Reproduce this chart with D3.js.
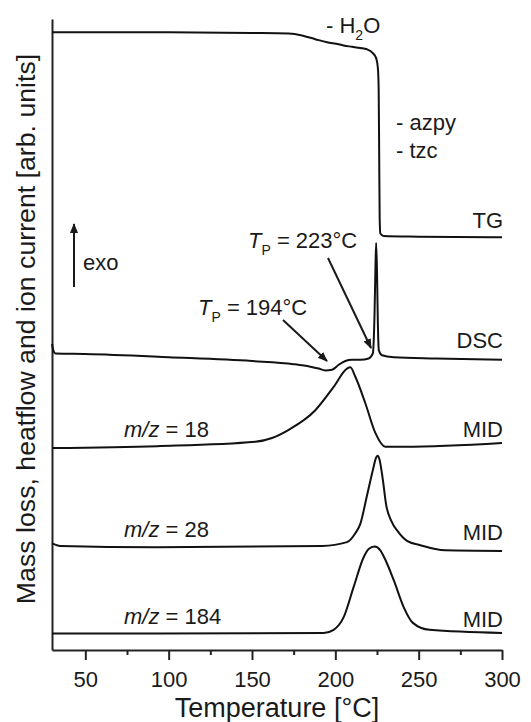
<!DOCTYPE html>
<html>
<head>
<meta charset="utf-8">
<script src="https://cdnjs.cloudflare.com/ajax/libs/d3/7.8.5/d3.min.js"></script>
<style>
body { margin: 0; background: #fff; }
text { font-family: "Liberation Sans", Arial, Helvetica, sans-serif; fill: #1a1a1a; }
</style>
</head>
<body>
<script>
// data: [temperature °C, signal in arb. units]________________________________
var tgCurve = [[30, 97.9], [100, 97.9], [150, 97.8], [172, 97.7], [180, 97.4], [188, 96.8],
    [195, 96.3], [202, 96.0], [205, 95.8], [210, 95.6], [215, 95.4], [219, 95.2], [222.5, 94.6],
    [224.5, 93.8], [225.5, 92.3], [226, 89], [226.3, 79], [226.6, 68.5], [227, 66.0],
    [229, 65.6], [250, 65.5], [300, 65.4]];

var dscCurve = [[30, 48.5], [30.8, 47.5], [32, 47.0], [50, 46.9], [100, 46.4], [150, 45.8],
    [175, 45.3], [185, 44.9], [190, 44.6], [194, 44.3], [198, 44.4], [202, 45.2], [206, 45.8],
    [210, 46.0], [215, 46.0], [220, 46.2], [222.5, 47.0], [223.5, 53], [224.1, 61], [224.5, 64.5],
    [225, 60], [225.5, 52], [226.1, 47.5], [228, 46.7], [235, 46.4], [260, 46.2], [300, 46.0]];

var mid18Curve = [[30, 32.0], [93, 32.3], [152, 33.0], [162, 33.6], [172, 34.9], [188, 38.0],
    [199, 41.7], [207, 44.6], [209, 44.8], [212, 43.3], [218, 39.1], [224, 34.4], [230, 32.2],
    [242, 32.2], [300, 32.8]];

var mid28Curve = [[30, 16.9], [35, 16.5], [93, 16.3], [192, 16.5], [207, 17.1], [212, 18.5],
    [215, 20], [219, 24.5], [222.5, 28.5], [224.5, 30.5], [225.5, 30.8], [226.5, 30.2], [228.5, 27],
    [230.5, 23], [233.5, 20.5], [237.5, 18.8], [243, 17.3], [251, 16.6], [266, 15.8], [300, 15.7]];

var mid184Curve = [[30, 2.6], [193, 2.7], [199, 3.2], [205, 5.2], [211, 10.0], [217, 14.7],
    [220, 16.0], [223.5, 16.4], [227, 15.8], [230, 14.3], [235, 11.1], [241, 6.8], [246.5, 4.3],
    [256.5, 3.2], [300, 2.7]];

var majorTicks = [50, 100, 150, 200, 250, 300];
var minorTicks = [75, 125, 175, 225, 275];

var curveNames = ["TG", "DSC", "MID", "MID", "MID"];
var massLabels = ["18", "28", "184"];

// svg________________________________________________________________________
var margin = {top: 19, right: 29, bottom: 72, left: 52};
var width = 531 - margin.left - margin.right;
var height = 722 - margin.top - margin.bottom;

var svg = d3.select("body").append("svg")
    .attr("width", 531)
    .attr("height", 722);

var g = svg.append("g")
    .attr("transform", "translate(" + margin.left + "," + margin.top + ")");

var x = d3.scaleLinear().domain([30, 300]).range([0, width]);
var y = d3.scaleLinear().domain([0, 100]).range([height, 0]);

// arrow head
svg.append("defs").append("marker")
    .attr("id", "head")
    .attr("viewBox", "0 0 10 10")
    .attr("refX", 9).attr("refY", 5)
    .attr("markerWidth", 10).attr("markerHeight", 10)
    .attr("markerUnits", "userSpaceOnUse")
    .attr("orient", "auto")
  .append("path")
    .attr("d", "M0,1 L10,5 L0,9 Z")
    .attr("fill", "#1a1a1a");

// axes_______________________________________________________________________
var bottom = g.append("g")
    .attr("transform", "translate(0," + height + ")")
    .call(d3.axisBottom(x).tickValues(majorTicks).tickSize(10).tickSizeOuter(0));
bottom.selectAll("text")
    .attr("y", 37).attr("dy", null)
    .attr("font-size", "22px")
    .attr("font-family", "Liberation Sans, Arial, sans-serif")
    .style("fill", "#1a1a1a");

g.append("g")
    .attr("transform", "translate(0," + height + ")")
  .selectAll("line").data(minorTicks).enter()
  .append("line")
    .attr("x1", d => x(d) + 0.5).attr("x2", d => x(d) + 0.5)
    .attr("y1", 0).attr("y2", 5);

g.append("g")
    .call(d3.axisLeft(y).tickValues([]).tickSizeOuter(0));

g.selectAll(".domain, .tick line, line")
    .attr("stroke", "#222")
    .attr("stroke-width", 2);

g.append("text")
    .attr("x", width / 2)
    .attr("y", 717 - margin.top)
    .attr("text-anchor", "middle")
    .attr("font-size", "27px")
    .text("Temperature [°C]");

g.append("text")
    .attr("transform", "rotate(-90)")
    .attr("x", -(329 - margin.top))
    .attr("y", 35 - margin.left)
    .attr("text-anchor", "middle")
    .attr("font-size", "26.7px")
    .text("Mass loss, heatflow and ion current [arb. units]");

// curves_____________________________________________________________________
var line = d3.line()
    .x(d => x(d[0]))
    .y(d => y(d[1]))
    .curve(d3.curveMonotoneX);

var curves = [tgCurve, dscCurve, mid18Curve, mid28Curve, mid184Curve];
g.selectAll(".curve").data(curves).enter()
  .append("path")
    .attr("class", "curve")
    .attr("d", line)
    .attr("fill", "none")
    .attr("stroke", "#111")
    .attr("stroke-width", 2)
    .attr("stroke-linejoin", "round");

// labels_____________________________________________________________________
var nameY = [228, 348, 437, 540, 627];
svg.selectAll(".name").data(curveNames).enter()
  .append("text")
    .attr("class", "name")
    .attr("x", margin.left + width + 1)
    .attr("y", (d, i) => nameY[i])
    .attr("text-anchor", "end")
    .attr("font-size", "22px")
    .text(d => d);

var massY = [437, 537, 624];
var mz = svg.selectAll(".mz").data(massLabels).enter()
  .append("text")
    .attr("class", "mz")
    .attr("x", 124)
    .attr("y", (d, i) => massY[i])
    .attr("font-size", "22px");
mz.append("tspan").attr("font-style", "italic").text("m");
mz.append("tspan").attr("font-style", "italic").text("/");
mz.append("tspan").attr("font-style", "italic").text("z");
mz.append("tspan").text(d => " = " + d);

// - H2O
var h2o = svg.append("text").attr("x", 326).attr("y", 33).attr("font-size", "22px");
h2o.append("tspan").text("- H");
h2o.append("tspan").attr("font-size", "14px").attr("dy", 7).text("2");
h2o.append("tspan").attr("dy", -7).text("O");

svg.append("text").attr("x", 396).attr("y", 130).attr("font-size", "22px").text("- azpy");
svg.append("text").attr("x", 396).attr("y", 158).attr("font-size", "22px").text("- tzc");

function peakLabel(px, py, value) {
    var t = svg.append("text").attr("x", px).attr("y", py).attr("font-size", "22px");
    t.append("tspan").attr("font-style", "italic").text("T");
    t.append("tspan").attr("font-size", "14px").attr("dy", 7).text("P");
    t.append("tspan").attr("dy", -7).text(" = " + value + "°C");
}
peakLabel(248, 248, 223);
peakLabel(198, 315, 194);

svg.append("text").attr("x", 83).attr("y", 270).attr("font-size", "22px").text("exo");

// arrows
var arrows = [[74, 287, 74, 224], [283, 320, 327, 361], [328, 258, 371, 348]];
svg.selectAll(".arrow").data(arrows).enter()
  .append("line")
    .attr("class", "arrow")
    .attr("x1", d => d[0]).attr("y1", d => d[1])
    .attr("x2", d => d[2]).attr("y2", d => d[3])
    .attr("stroke", "#1a1a1a")
    .attr("stroke-width", 2)
    .attr("marker-end", "url(#head)");
</script>
</body>
</html>
